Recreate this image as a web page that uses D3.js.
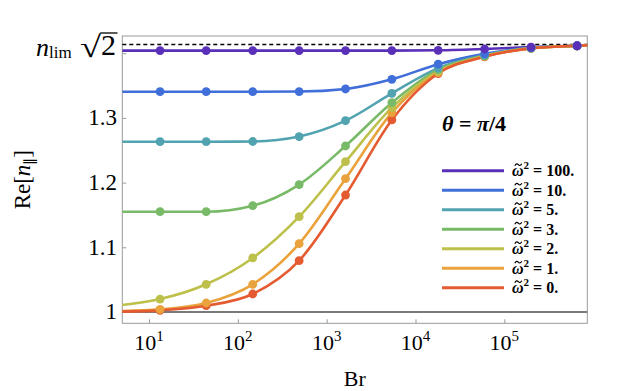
<!DOCTYPE html>
<html lang="en">
<head>
<meta charset="UTF-8">
<title>Re[n] vs Br</title>
<script src="https://d3js.org/d3.v7.min.js"></script>
<style>
  body { margin: 0; background: #fff; }
  text { font-family: "Liberation Serif", "Times New Roman", serif; }
</style>
</head>
<body>
<script>
// data
const omegaLabels = ["100.", "10.", "5.", "3.", "2.", "1.", "0."];
const colors = ["#5a30b8", "#416fd9", "#52a3b0", "#79ba69", "#bdc04a", "#e9a23c", "#e45a31"];
const brPoints = [13.3, 44, 147, 490, 1630, 5420, 18000, 60000, 200000, 660000];
const vals100 = [1.404, 1.404, 1.404, 1.404, 1.404, 1.404, 1.4045, 1.4065, 1.4095, 1.4115];
const vals10  = [1.3405, 1.3405, 1.3405, 1.3407, 1.3447, 1.3597, 1.383, 1.399, 1.4085, 1.4115];
const vals5   = [1.2632, 1.2632, 1.2635, 1.2712, 1.2957, 1.338, 1.377, 1.397, 1.408, 1.4115];
const vals3   = [1.155, 1.155, 1.1643, 1.197, 1.2566, 1.3235, 1.3745, 1.396, 1.4078, 1.4115];
const vals2   = [1.020, 1.0428, 1.0835, 1.1473, 1.2323, 1.3158, 1.372, 1.3955, 1.4077, 1.4115];
const vals1   = [1.004, 1.0139, 1.0428, 1.1056, 1.206, 1.308, 1.370, 1.395, 1.4076, 1.4115];
const vals0   = [1.0025, 1.0097, 1.0278, 1.0793, 1.1808, 1.2968, 1.3686, 1.3945, 1.4075, 1.4115];
const allVals = [vals100, vals10, vals5, vals3, vals2, vals1, vals0];
// curve values at the left and right ends of the frame
const leftVals  = [1.404, 1.3405, 1.2632, 1.155, 1.0108, 1.0015, 1.0005];
const rightVals = [1.412, 1.4122, 1.4122, 1.4122, 1.4122, 1.4122, 1.4122];
const brMin = 5, brMax = 8.6e5;
const xTicks = [10, 100, 1000, 10000, 100000];
const xExp = ["1", "2", "3", "4", "5"];
const yTicks = [1, 1.1, 1.2, 1.3, 1.4];
const yTickLabels = ["1", "1.1", "1.2", "1.3", ""];
const nLim = Math.SQRT2;

const width = 623, height = 391;
const mLeft = 122.3, mRight = 587.3, mTop = 36, mBottom = 323.3;
const serif = "'Liberation Serif', 'Times New Roman', serif";

const svg = d3.select("body").append("svg")
  .attr("width", width).attr("height", height)
  .attr("font-family", serif);

const x = d3.scaleLog().domain([brMin, brMax]).range([mLeft, mRight]);
const y = d3.scaleLinear().domain([0.9825, 1.4266]).range([mBottom, mTop]);

// frame
svg.append("rect")
  .attr("x", mLeft).attr("y", mTop)
  .attr("width", mRight - mLeft).attr("height", mBottom - mTop)
  .attr("fill", "none").attr("stroke", "#9a9a9a").attr("stroke-width", 1);

// x axis ticks (inside)
const xAxis = svg.append("g")
  .attr("transform", `translate(0,${mBottom})`)
  .call(d3.axisBottom(x).tickValues(xTicks).tickSize(-4).tickFormat(""));
xAxis.select(".domain").remove();
xAxis.selectAll("line").attr("stroke", "#9a9a9a");
xTicks.forEach((t, i) => {
  const lab = svg.append("text")
    .attr("x", x(t)).attr("y", 350)
    .attr("text-anchor", "middle")
    .attr("font-size", 22);
  lab.append("tspan").text("10");
  lab.append("tspan").attr("font-size", 15).attr("dy", -9).text(xExp[i]);
});

// y axis ticks (inside)
const yAxis = svg.append("g")
  .attr("transform", `translate(${mLeft},0)`)
  .call(d3.axisLeft(y).tickValues(yTicks).tickSize(-4).tickFormat(""));
yAxis.select(".domain").remove();
yAxis.selectAll("line").attr("stroke", "#9a9a9a");
yTicks.forEach((t, i) => {
  if (!yTickLabels[i]) return;
  svg.append("text")
    .attr("x", 117).attr("y", y(t) + 7.5)
    .attr("text-anchor", "end")
    .attr("font-size", 23)
    .text(yTickLabels[i]);
});

// n_lim sqrt2 label
const two = svg.append("text")
  .attr("x", 116).attr("y", 55)
  .attr("text-anchor", "end").attr("font-size", 30).text("2");
const tb = two.node().getBBox();
const rootT = svg.append("text")
  .attr("x", tb.x - 21).attr("y", 57)
  .attr("font-size", 30)
  .attr("textLength", 21).attr("lengthAdjust", "spacingAndGlyphs")
  .text("\u221A");
const rb = rootT.node().getBBox();
svg.append("line")
  .attr("x1", rb.x + rb.width - 1.5).attr("x2", tb.x + tb.width + 1.5)
  .attr("y1", 33).attr("y2", 33)
  .attr("stroke", "#000").attr("stroke-width", 1.3);
const nT = svg.append("text")
  .attr("x", 36).attr("y", 56);
nT.append("tspan").attr("font-size", 26).attr("font-style", "italic").text("n");
nT.append("tspan").attr("font-size", 17).attr("dy", 2).text("lim");

// axis titles
svg.append("text")
  .attr("x", (mLeft + mRight) / 2).attr("y", 386)
  .attr("text-anchor", "middle").attr("font-size", 22).text("Br");
const yl = svg.append("text")
  .attr("transform", `translate(30,${(mTop + mBottom) / 2}) rotate(-90)`)
  .attr("text-anchor", "middle").attr("font-size", 23);
yl.append("tspan").text("Re[");
yl.append("tspan").attr("font-style", "italic").text("n");
yl.append("tspan").attr("font-size", 14).attr("dy", 4).text("\u2225");
yl.append("tspan").attr("dy", -4).text("]");

// reference lines
svg.append("line")
  .attr("x1", mLeft).attr("x2", mRight)
  .attr("y1", y(1)).attr("y2", y(1))
  .attr("stroke", "#7a7a7a").attr("stroke-width", 2);
svg.append("line")
  .attr("x1", mLeft).attr("x2", mRight)
  .attr("y1", Math.round(y(nLim)) + 0.5).attr("y2", Math.round(y(nLim)) + 0.5)
  .attr("stroke", "#000").attr("stroke-width", 1.3)
  .attr("stroke-dasharray", "4,3");

const line = d3.line()
  .x(d => x(d[0])).y(d => y(d[1]))
  .curve(d3.curveMonotoneX);

const plot = svg.append("g");
allVals.forEach((vals, k) => {
  const pts = [[brMin, leftVals[k]]]
    .concat(brPoints.map((b, i) => [b, vals[i]]))
    .concat([[brMax, rightVals[k]]]);
  plot.append("path")
    .attr("d", line(pts))
    .attr("fill", "none")
    .attr("stroke", colors[k])
    .attr("stroke-width", 2.6);
});
for (let k = allVals.length - 1; k >= 0; k--) {
  plot.selectAll(null)
    .data(brPoints.map((b, i) => [b, allVals[k][i]]))
    .enter().append("circle")
    .attr("cx", d => x(d[0])).attr("cy", d => y(d[1]))
    .attr("r", 4.4)
    .attr("fill", colors[k]);
}

// theta label
const th = svg.append("text")
  .attr("x", 442).attr("y", 130.5)
  .attr("font-size", 22).attr("font-weight", "bold");
th.append("tspan").attr("font-style", "italic").text("\u03B8");
th.append("tspan").text(" = ");
th.append("tspan").attr("font-style", "italic").text("\u03C0");
th.append("tspan").text("/4");

// legend
const legend = svg.append("g");
omegaLabels.forEach((lab, i) => {
  const ly = 170.7 + i * 19.5;
  legend.append("line")
    .attr("x1", 442).attr("x2", 504)
    .attr("y1", ly).attr("y2", ly)
    .attr("stroke", colors[i]).attr("stroke-width", 3);
  const t = legend.append("text")
    .attr("x", 512).attr("y", ly + 5.5)
    .attr("font-size", 16).attr("font-weight", "bold");
  t.append("tspan").attr("font-style", "italic").text("\u03C9");
  t.append("tspan").attr("font-size", 11).attr("dy", -7).text("2");
  t.append("tspan").attr("dy", 7).text(" = " + lab);
  // tilde accent over the omega
  const ext = t.node().getExtentOfChar(0);
  const cx = ext.x + ext.width / 2 + 0.5, ty = ly - 6;
  legend.append("path")
    .attr("d", `M${cx - 3.5},${ty + 1} Q${cx - 1.75},${ty - 2} ${cx},${ty} Q${cx + 1.75},${ty + 2} ${cx + 3.5},${ty - 1}`)
    .attr("fill", "none").attr("stroke", "#000").attr("stroke-width", 1.2);
});
</script>
</body>
</html>
